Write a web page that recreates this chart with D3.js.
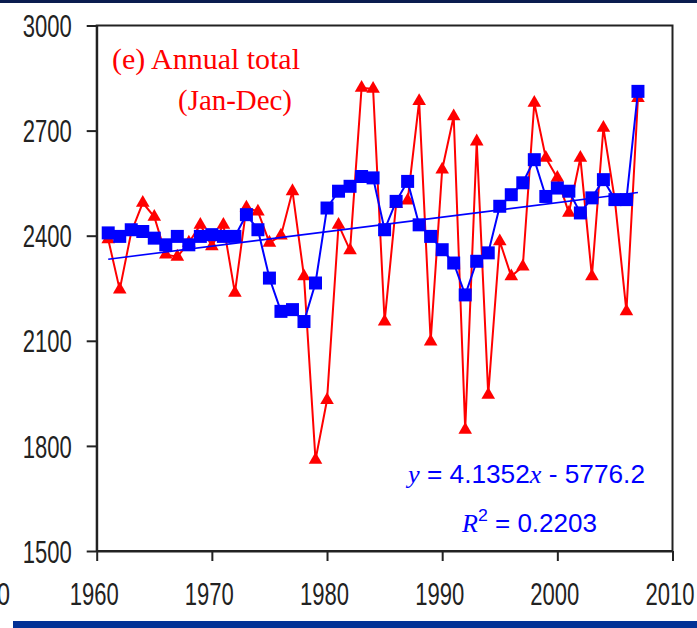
<!DOCTYPE html>
<html>
<head>
<meta charset="utf-8">
<script src="https://cdn.jsdelivr.net/npm/d3@7"></script>
<style>
  html, body { margin: 0; padding: 0; background: #fff; }
  svg { display: block; }
</style>
</head>
<body>
<div id="chart"></div>
<script>
// Chart size
const width = 697;
const height = 628;

// Data: years and the two series
const years = d3.range(1961, 2008);
const annualTotal = [
  2390, 2246, 2410, 2494, 2454, 2346, 2340, 2380, 2431, 2370,
  2431, 2237, 2480, 2469, 2380, 2400, 2527, 2284, 1760, 1931,
  2431, 2358, 2822, 2819, 2155, 2490, 2500, 2784, 2098, 2589,
  2741, 1846, 2669, 1946, 2384, 2284, 2312, 2779, 2622, 2565,
  2465, 2622, 2284, 2708, 2500, 2184, 2793
];
const blueSeries = [
  2408, 2398, 2417, 2412, 2393, 2374, 2398, 2374, 2398, 2403,
  2398, 2398, 2460, 2417, 2279, 2184, 2189, 2155, 2265, 2479,
  2527, 2541, 2569, 2565, 2417, 2498, 2555, 2431, 2398, 2360,
  2322, 2231, 2327, 2351, 2484, 2517, 2551, 2617, 2512, 2536,
  2527, 2465, 2508, 2560, 2503, 2503, 2812
];
const xTicks = [1960, 1970, 1980, 1990, 2000, 2010];
const yTicks = [1500, 1800, 2100, 2400, 2700, 3000];

// Regression shown on the chart
const trendSlope = 4.1352;
const trendIntercept = -5776.2;

const svg = d3.select('#chart')
  .append('svg')
  .attr('width', width)
  .attr('height', height);

// Scales
const x = d3.scaleLinear().domain([1960, 2010]).range([96.7, 672.5]);
const y = d3.scaleLinear().domain([1500, 3000]).range([551, 25.5]);

// Decorative slide bands
svg.append('rect').attr('x', 0).attr('y', 0).attr('width', width).attr('height', 3).attr('fill', '#0b1d4f');
svg.append('rect').attr('x', 13).attr('y', 621).attr('width', width - 13).attr('height', 7).attr('fill', '#023195');

// Stray label fragment on the left edge
svg.append('text')
  .attr('x', 10).attr('y', 605)
  .attr('text-anchor', 'end')
  .attr('font-family', 'Liberation Sans, Arial, sans-serif')
  .attr('font-size', 31)
  .attr('fill', '#222')
  .attr('textLength', 13)
  .attr('lengthAdjust', 'spacingAndGlyphs')
  .text('0');

// Frame (top and right)
svg.append('rect')
  .attr('x', x(1960)).attr('y', y(3000))
  .attr('width', x(2010) - x(1960))
  .attr('height', y(1500) - y(3000))
  .attr('fill', 'none')
  .attr('stroke', '#222')
  .attr('stroke-width', 2);

// Axes
const yAxis = svg.append('g')
  .attr('transform', `translate(${x(1960)},0)`)
  .call(d3.axisLeft(y).tickValues(yTicks).tickSize(10).tickSizeOuter(0).tickFormat(d3.format('d')));
const xAxis = svg.append('g')
  .attr('transform', `translate(0,${y(1500)})`)
  .call(d3.axisBottom(x).tickValues(xTicks).tickSize(10).tickSizeOuter(0).tickFormat(d3.format('d')));

[yAxis, xAxis].forEach(function(g) {
  g.select('.domain').attr('stroke', '#222').attr('stroke-width', 2);
  g.selectAll('.tick line').attr('stroke', '#222').attr('stroke-width', 2);
  g.selectAll('.tick text')
    .attr('font-family', 'Liberation Sans, Arial, sans-serif')
    .attr('font-size', 31)
    .attr('fill', '#222')
    .attr('textLength', 49)
    .attr('lengthAdjust', 'spacingAndGlyphs');
});
yAxis.selectAll('.tick text').attr('x', -25).attr('dy', '0.36em');
xAxis.selectAll('.tick text').attr('x', -3).attr('y', 54).attr('dy', 0);

// Red series (annual total)
const seriesLine = d3.line()
  .x((d, i) => x(years[i]))
  .y(d => y(d));

svg.append('path')
  .datum(annualTotal)
  .attr('d', seriesLine)
  .attr('fill', 'none')
  .attr('stroke', '#ff0000')
  .attr('stroke-width', 2);

svg.append('g')
  .selectAll('path')
  .data(annualTotal)
  .join('path')
  .attr('d', d3.symbol().type(d3.symbolTriangle).size(80))
  .attr('transform', (d, i) => `translate(${x(years[i])},${y(d)})`)
  .attr('fill', '#ff0000');

// Trend line
const trendYears = [years[0], years[years.length - 1]];
svg.append('line')
  .attr('x1', x(trendYears[0]))
  .attr('y1', y(trendSlope * trendYears[0] + trendIntercept))
  .attr('x2', x(trendYears[1]))
  .attr('y2', y(trendSlope * trendYears[1] + trendIntercept))
  .attr('stroke', '#0000ff')
  .attr('stroke-width', 1.6);

// Blue series
svg.append('path')
  .datum(blueSeries)
  .attr('d', seriesLine)
  .attr('fill', 'none')
  .attr('stroke', '#0000ff')
  .attr('stroke-width', 2);

svg.append('g')
  .selectAll('path')
  .data(blueSeries)
  .join('path')
  .attr('d', d3.symbol().type(d3.symbolSquare).size(169))
  .attr('transform', (d, i) => `translate(${x(years[i])},${y(d)})`)
  .attr('fill', '#0000ff');

// Panel title
svg.append('text')
  .attr('x', 112).attr('y', 69)
  .attr('font-family', 'Liberation Serif, Times New Roman, serif')
  .attr('font-size', 29)
  .attr('fill', '#ff0000')
  .attr('textLength', 188)
  .attr('lengthAdjust', 'spacingAndGlyphs')
  .text('(e) Annual total');
svg.append('text')
  .attr('x', 178).attr('y', 110)
  .attr('font-family', 'Liberation Serif, Times New Roman, serif')
  .attr('font-size', 29)
  .attr('fill', '#ff0000')
  .attr('textLength', 114)
  .attr('lengthAdjust', 'spacingAndGlyphs')
  .text('(Jan-Dec)');

// Regression text
const eq = svg.append('text')
  .attr('x', 408).attr('y', 483)
  .attr('font-family', 'Liberation Sans, Arial, sans-serif')
  .attr('font-size', 25)
  .attr('fill', '#0000ff')
  .attr('textLength', 237)
  .attr('lengthAdjust', 'spacingAndGlyphs');
eq.append('tspan').attr('font-family', 'Liberation Serif, serif').attr('font-style', 'italic').text('y');
eq.append('tspan').text(' = ' + trendSlope);
eq.append('tspan').attr('font-family', 'Liberation Serif, serif').attr('font-style', 'italic').text('x');
eq.append('tspan').text('  - ' + Math.abs(trendIntercept));

const r2 = svg.append('text')
  .attr('x', 462).attr('y', 532)
  .attr('font-family', 'Liberation Sans, Arial, sans-serif')
  .attr('font-size', 25)
  .attr('fill', '#0000ff')
  .attr('textLength', 135)
  .attr('lengthAdjust', 'spacingAndGlyphs');
r2.append('tspan').attr('font-family', 'Liberation Serif, serif').attr('font-style', 'italic').text('R');
r2.append('tspan').attr('font-size', 17).attr('dy', -11).text('2');
r2.append('tspan').attr('dy', 11).text(' = 0.2203');
</script>
</body>
</html>
